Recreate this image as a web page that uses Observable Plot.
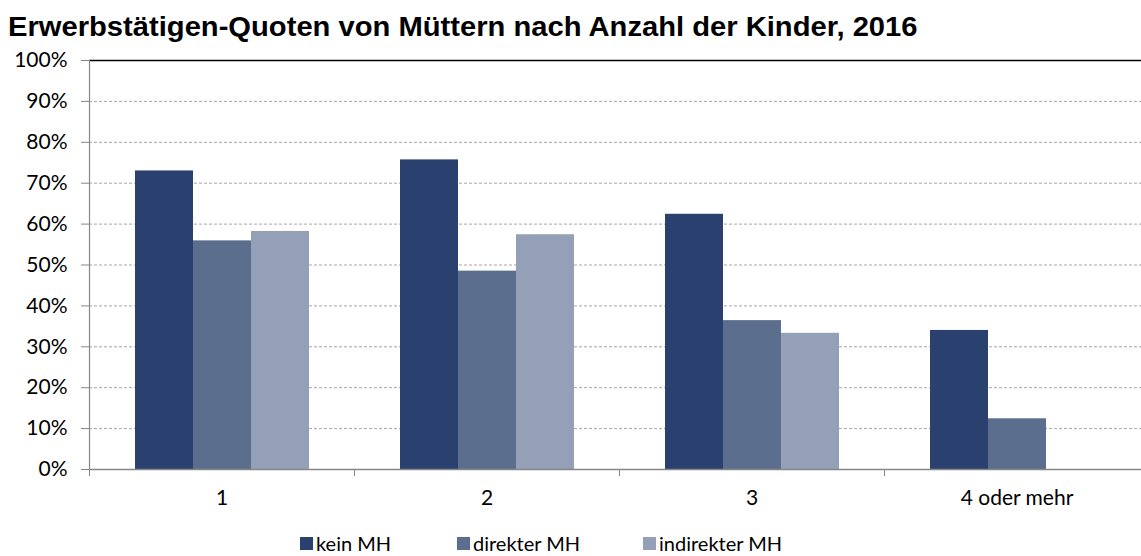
<!DOCTYPE html>
<html><head><meta charset="utf-8">
<script src="https://cdn.jsdelivr.net/npm/d3@7"></script>
<script src="https://cdn.jsdelivr.net/npm/@observablehq/plot@0.6"></script>
<style>
body{margin:0;background:#fff;width:1141px;height:556px;overflow:hidden;font-family:Lato,"Liberation Sans",sans-serif;}
#title{height:36px;box-sizing:border-box;padding:12px 0 0 8px;color:#000;white-space:nowrap;overflow:visible;position:relative;z-index:1;}
#title span{display:inline-block;font:bold 27px "Liberation Sans",sans-serif;line-height:30px;transform:scaleX(1.08);transform-origin:0 0;}
#chart{width:1141px;overflow:hidden;}
#chart svg{max-width:none;}
#legend{position:relative;height:46px;}
.item{position:absolute;top:22px;display:flex;align-items:center;font-size:20px;color:#000;line-height:22px;}
.sw{width:13px;height:13px;margin-right:3px;display:inline-block;}
</style></head><body>
<div id="title"><span>Erwerbstätigen-Quoten von Müttern nach Anzahl der Kinder, 2016</span></div>
<div id="chart"></div>
<div id="legend"></div>
<script>
const categories = ["1", "2", "3", "4 oder mehr"];
const series = ["kein MH", "direkter MH", "indirekter MH"];
const keinMH = [73.0, 75.7, 62.4, 34.0];
const direkterMH = [55.9, 48.5, 36.4, 12.4];
const indirekterMH = [58.2, 57.4, 33.3, null];
const yTicks = [0, 10, 20, 30, 40, 50, 60, 70, 80, 90, 100];
const colors = ["#2A4170", "#5B6E8E", "#94A0B7"];

const valuesBySeries = [keinMH, direkterMH, indirekterMH];
const data = categories.flatMap((c, i) =>
  series.map((s, j) => ({category: c, series: s, value: valuesBySeries[j][i]}))
).filter(d => d.value != null);

const W = 1149, H = 474, mL = 89, mR = 0, mT = 24, mB = 41;
const step = (W - mL - mR) / categories.length;

const chart = Plot.plot({
  width: W, height: H,
  marginLeft: mL, marginRight: mR, marginTop: mT, marginBottom: mB,
  style: {fontFamily: 'Lato, "Liberation Sans", sans-serif', fontSize: "21px", color: "#000", background: "transparent", overflow: "visible", maxWidth: "none"},
  fx: {domain: categories, padding: 0, label: null},
  x: {domain: series, paddingInner: 0, paddingOuter: 0.746, axis: null},
  y: {domain: [0, 100], label: null},
  color: {domain: series, range: colors},
  marks: [
    Plot.gridY(yTicks.filter(t => t > 0 && t < 100), {stroke: "#a6a6a6", strokeOpacity: 1, strokeDasharray: "3,2"}),
    Plot.barY(data, {fx: "category", x: "series", y: "value", fill: "series", inset: 0}),
    Plot.ruleY([0], {stroke: "#868686", strokeWidth: 1.5}),
    Plot.ruleY([100], {stroke: "#000", strokeWidth: 1.5}),
    Plot.ruleX([{c: categories[0]}], {fx: "c", x: null, y1: 0, y2: 100, dx: -step / 2, stroke: "#868686", strokeWidth: 1.2}),
    Plot.axisY({ticks: yTicks, tickFormat: d => d + "%", tickSize: 8, tickPadding: 14, stroke: "#868686", fill: "#000", label: null}),
    Plot.axisFx({anchor: "bottom", tickSize: 7, tickFormat: () => "", dx: -step / 2, stroke: "#868686", label: null}),
    Plot.axisFx({anchor: "bottom", tickSize: 0, tickPadding: 21, fill: "#000", label: null})
  ]
});
document.getElementById("chart").appendChild(chart);

const legend = document.getElementById("legend");
const lefts = [300, 457, 643];
series.forEach((s, i) => {
  const it = document.createElement("div");
  it.className = "item";
  it.style.left = lefts[i] + "px";
  const sw = document.createElement("span");
  sw.className = "sw";
  sw.style.background = colors[i];
  it.appendChild(sw);
  it.appendChild(document.createTextNode(s));
  legend.appendChild(it);
});
</script>
</body></html>
